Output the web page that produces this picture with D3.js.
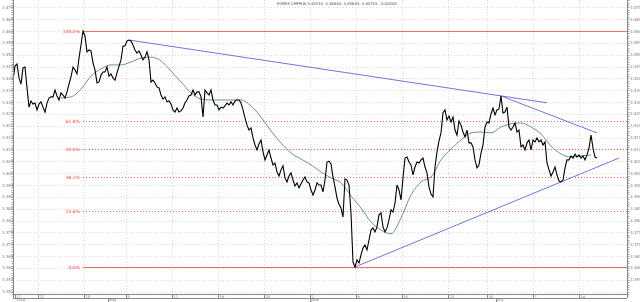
<!DOCTYPE html>
<html>
<head>
<meta charset="utf-8">
<script src="https://cdn.jsdelivr.net/npm/d3@7"></script>
<style>
body { margin: 0; background: #fff; }
svg { display: block; }
text { font-family: "DejaVu Sans", sans-serif; }
</style>
</head>
<body>
<svg id="chart" width="640" height="302"></svg>
<script>
// CHFPLN closes, one value per bar
var closes = [
  3.4393, 3.4452, 3.4461, 3.4402, 3.4376, 3.4444, 3.4448, 3.4360, 3.4279, 3.4305,
  3.4292, 3.4296, 3.4267, 3.4292, 3.4301, 3.4279, 3.4258, 3.4296, 3.4317, 3.4322,
  3.4322, 3.4351, 3.4326, 3.4309, 3.4339, 3.4330, 3.4317, 3.4343, 3.4376, 3.4406,
  3.4448, 3.4436, 3.4419, 3.4486, 3.4541, 3.4600, 3.4579, 3.4512, 3.4520, 3.4516,
  3.4465, 3.4436, 3.4381, 3.4385, 3.4414, 3.4427, 3.4427, 3.4448, 3.4410, 3.4419,
  3.4402, 3.4393, 3.4423, 3.4452, 3.4478, 3.4537, 3.4537, 3.4558, 3.4562, 3.4558,
  3.4541, 3.4520, 3.4507, 3.4516, 3.4499, 3.4478, 3.4490, 3.4512, 3.4478, 3.4385,
  3.4393, 3.4381, 3.4364, 3.4360, 3.4330, 3.4313, 3.4322, 3.4301, 3.4305, 3.4292,
  3.4267, 3.4258, 3.4275, 3.4258, 3.4263, 3.4275, 3.4296, 3.4309, 3.4326, 3.4330,
  3.4351, 3.4330, 3.4343, 3.4343, 3.4322, 3.4237, 3.4351, 3.4339, 3.4330, 3.4351,
  3.4309, 3.4288, 3.4288, 3.4267, 3.4279, 3.4275, 3.4284, 3.4296, 3.4288, 3.4301,
  3.4288, 3.4305, 3.4309, 3.4309, 3.4296, 3.4267, 3.4233, 3.4203, 3.4182, 3.4191,
  3.4149, 3.4119, 3.4098, 3.4123, 3.4140, 3.4090, 3.4056, 3.4077, 3.4098, 3.4064,
  3.4035, 3.4043, 3.4005, 3.3988, 3.4014, 3.4031, 3.3980, 3.3963, 3.3988, 3.4001,
  3.3971, 3.3946, 3.3959, 3.3938, 3.3955, 3.3971, 3.3984, 3.3963, 3.3959, 3.3929,
  3.3908, 3.3929, 3.3959, 3.3950, 3.3950, 3.3921, 3.3971, 3.4047, 3.4051, 3.4039,
  3.3984, 3.3942, 3.3895, 3.3869, 3.3853, 3.3815, 3.3976, 3.3971, 3.3950, 3.3832,
  3.3625, 3.3604, 3.3634, 3.3621, 3.3655, 3.3684, 3.3697, 3.3676, 3.3718, 3.3760,
  3.3769, 3.3752, 3.3773, 3.3824, 3.3832, 3.3773, 3.3752, 3.3769, 3.3803, 3.3845,
  3.3836, 3.3874, 3.3950, 3.3929, 3.3887, 3.3980, 3.4064, 3.4068, 3.4047, 3.4035,
  3.3993, 3.4026, 3.4047, 3.4043, 3.4056, 3.4064, 3.4026, 3.4001, 3.3942, 3.3912,
  3.3900, 3.4026, 3.4090, 3.4136, 3.4170, 3.4254, 3.4267, 3.4225, 3.4241, 3.4216,
  3.4237, 3.4182, 3.4161, 3.4220, 3.4203, 3.4174, 3.4153, 3.4182, 3.4128, 3.4128,
  3.4111, 3.4056, 3.4022, 3.4035, 3.4085, 3.4119, 3.4195, 3.4216, 3.4212, 3.4250,
  3.4275, 3.4246, 3.4267, 3.4271, 3.4326, 3.4254, 3.4258, 3.4279, 3.4195, 3.4182,
  3.4195, 3.4212, 3.4174, 3.4182, 3.4111, 3.4119, 3.4098, 3.4128, 3.4140, 3.4098,
  3.4140, 3.4132, 3.4149, 3.4132, 3.4140, 3.4119, 3.4132, 3.4043, 3.4014, 3.3988,
  3.4005, 3.4026, 3.3993, 3.3967, 3.3963, 3.3971, 3.4022, 3.4056, 3.4056, 3.4073,
  3.4064, 3.4081, 3.4068, 3.4077, 3.4064, 3.4073, 3.4056, 3.4077, 3.4106, 3.4161,
  3.4106, 3.4068, 3.4064
];
var barsOnAxis = 307; // room after the last bar

// moving average, one reading every 5 bars from bar 24
var maStartBar = 24;
var maStep = 5;
var maValues = [
  3.4317, 3.4322, 3.4355, 3.4410, 3.4440, 3.4457, 3.4457, 3.4469, 3.4486, 3.4490,
  3.4474, 3.4431, 3.4385, 3.4339, 3.4313, 3.4309, 3.4309, 3.4309, 3.4309, 3.4284,
  3.4237, 3.4178, 3.4128, 3.4085, 3.4060, 3.4035, 3.4005, 3.3980, 3.3959, 3.3904,
  3.3853, 3.3794, 3.3760, 3.3744, 3.3811, 3.3908, 3.3963, 3.3984, 3.4056, 3.4102,
  3.4140, 3.4170, 3.4174, 3.4170, 3.4195, 3.4208, 3.4212, 3.4195, 3.4165, 3.4115,
  3.4081, 3.4068, 3.4073, 3.4077
];

// fibonacci retracement between the high and the low
var fibHighBar = 35, fibHigh = 3.4600;
var fibLow = 3.3604;
var fibRatios = [1, 0.618, 0.5, 0.382, 0.236, 0];
var fibLabels = ["100.0%", "61.8%", "50.0%", "38.2%", "23.6%", "0.0%"];

// trend lines: [bar1, price1, bar2, price2]
var trendLines = [
  [58, 3.4562, 267, 3.4297],
  [244, 3.4326, 292, 3.4170],
  [171, 3.3604, 303, 3.4064]
];

var priceTicks = [3.470, 3.465, 3.460, 3.455, 3.450, 3.445, 3.440, 3.435, 3.430, 3.425,
  3.420, 3.415, 3.410, 3.405, 3.400, 3.395, 3.390, 3.385, 3.380, 3.375,
  3.370, 3.365, 3.360, 3.355, 3.350];

var dayTickBars = [1, 12.5, 35.5, 56.5, 79.5, 102.5, 125.5, 148.5, 171.5, 194.5, 217.5, 237, 260, 283];
var dayTickLabels = ["17", "22", "28", "5", "12", "19", "26", "2", "9", "16", "23", "30", "7", "14"];
var monthBars = [1, 47.5, 148.5, 241.5];
var monthLabels = ["2014", "May", "June", "July"];

var title = "FOREX CHFPLN 3.40733, 3.40833, 3.40633, 3.40733, -0.00250";

(function () {
    var svg = d3.select('#chart');
    var pLeft = 13, pRight = 627, pTop = 0, pBottom = 294;

    var xs = d3.scaleLinear().domain([0, barsOnAxis]).range([pLeft, pRight]);
    var ys = d3.scaleLinear().domain([3.4731, 3.3490]).range([pTop, pBottom]);

    var gridC = '#d8d8d8';
    var fibC = '#f06a6a';
    var trendC = '#7474dc';

    function py(d) { return Math.round(ys(d)) + 0.5; }
    function px(d) { return Math.round(xs(d)) + 0.5; }

    // horizontal grid
    svg.append('g').selectAll('line').data(priceTicks).enter().append('line')
        .attr('x1', pLeft).attr('x2', pRight)
        .attr('y1', py).attr('y2', py)
        .style('stroke', gridC).style('stroke-dasharray', '1,2');

    // vertical grid
    svg.append('g').selectAll('line').data(dayTickBars.slice(1)).enter().append('line')
        .attr('x1', px).attr('x2', px)
        .attr('y1', pTop).attr('y2', pBottom)
        .style('stroke', gridC).style('stroke-dasharray', '1,2');

    // fib levels
    var fibG = svg.append('g');
    fibRatios.forEach(function (r, i) {
        var y = py(fibLow + (fibHigh - fibLow) * r);
        var solid = (r === 1 || r === 0);
        fibG.append('line')
            .attr('x1', xs(fibHighBar)).attr('x2', pRight)
            .attr('y1', y).attr('y2', y)
            .style('stroke', fibC)
            .style('stroke-dasharray', solid ? 'none' : '1,2');
        fibG.append('text')
            .attr('x', xs(fibHighBar) - 3).attr('y', y + 1.5)
            .attr('text-anchor', 'end')
            .attr('font-size', 4.5)
            .attr('fill', '#f03030')
            .text(fibLabels[i]);
    });

    // trend lines
    svg.append('g').selectAll('line').data(trendLines).enter().append('line')
        .attr('x1', function (d) { return xs(d[0]); })
        .attr('y1', function (d) { return ys(d[1]); })
        .attr('x2', function (d) { return xs(d[2]); })
        .attr('y2', function (d) { return ys(d[3]); })
        .style('stroke', trendC).style('stroke-width', 1);

    // moving average
    var maLine = d3.line()
        .x(function (d, i) { return xs(maStartBar + i * maStep); })
        .y(function (d) { return ys(d); })
        .curve(d3.curveMonotoneX);
    svg.append('path').datum(maValues)
        .attr('d', maLine)
        .style('fill', 'none').style('stroke', '#5d8f5d').style('stroke-width', 0.9);

    // price
    var priceLine = d3.line()
        .x(function (d, i) { return xs(i); })
        .y(function (d) { return ys(d); });
    svg.append('path').datum(closes)
        .attr('d', priceLine)
        .style('fill', 'none').style('stroke', '#000').style('stroke-width', 1.1);

    // axes frame
    var axG = svg.append('g');
    axG.append('line').attr('x1', pLeft + 0.5).attr('x2', pLeft + 0.5).attr('y1', 0).attr('y2', pBottom + 4)
        .style('stroke', '#888');
    axG.append('line').attr('x1', pRight + 0.5).attr('x2', pRight + 0.5).attr('y1', 0).attr('y2', pBottom + 4)
        .style('stroke', '#888');
    axG.append('line').attr('x1', pLeft).attr('x2', pRight).attr('y1', pBottom + 0.5).attr('y2', pBottom + 0.5)
        .style('stroke', '#888');
    axG.append('line').attr('x1', pLeft).attr('x2', pRight).attr('y1', pBottom + 4.5).attr('y2', pBottom + 4.5)
        .style('stroke', '#888');

    // y minor ticks
    var minor = d3.range(3.349, 3.4731, 0.001);
    axG.selectAll('.mnl').data(minor).enter().append('line')
        .attr('x1', pLeft - 1.5).attr('x2', pLeft)
        .attr('y1', py).attr('y2', py)
        .style('stroke', '#aaa');
    axG.selectAll('.mnr').data(minor).enter().append('line')
        .attr('x1', pRight + 1).attr('x2', pRight + 2.5)
        .attr('y1', py).attr('y2', py)
        .style('stroke', '#aaa');

    axG.selectAll('.yl').data(priceTicks).enter().append('text')
        .attr('x', 2).attr('y', function (d) { return ys(d) + 1.5; })
        .attr('font-size', 4).attr('fill', '#777')
        .text(function (d) { return d.toFixed(3); });
    axG.selectAll('.yr').data(priceTicks.slice(0, priceTicks.length - 1)).enter().append('text')
        .attr('x', 630).attr('y', function (d) { return ys(d) + 1.5; })
        .attr('font-size', 4).attr('fill', '#777')
        .text(function (d) { return d.toFixed(3); });

    // x ticks
    axG.selectAll('.xt').data(dayTickBars).enter().append('line')
        .attr('x1', px).attr('x2', px)
        .attr('y1', pBottom).attr('y2', pBottom + 4.5)
        .style('stroke', '#888');
    axG.selectAll('.xl').data(dayTickBars).enter().append('text')
        .attr('x', function (d) { return xs(d) + 1.5; })
        .attr('y', pBottom + 3.8)
        .attr('font-size', 3.5).attr('fill', '#777')
        .text(function (d, i) { return dayTickLabels[i]; });
    axG.selectAll('.ml').data(monthBars).enter().append('text')
        .attr('x', function (d) { return xs(d) + 1; })
        .attr('y', 301)
        .attr('font-size', 3.5).attr('fill', '#777')
        .text(function (d, i) { return monthLabels[i]; });
    axG.selectAll('.mt').data(monthBars.slice(1)).enter().append('line')
        .attr('x1', px).attr('x2', px)
        .attr('y1', pBottom + 4).attr('y2', 302)
        .style('stroke', '#888');

    svg.append('text')
        .attr('x', 277).attr('y', 5)
        .attr('font-size', 3.8).attr('fill', '#444')
        .text(title);
})();
</script>
</body>
</html>
